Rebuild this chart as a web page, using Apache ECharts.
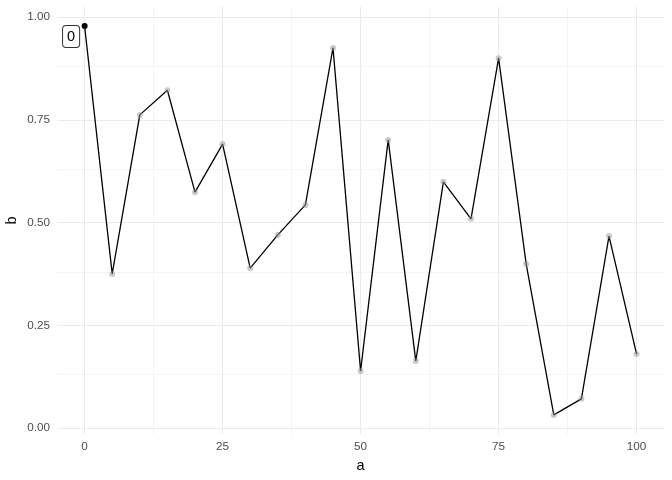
<!DOCTYPE html>
<html><head><meta charset="utf-8">
<script src="https://cdn.jsdelivr.net/npm/echarts@6/dist/echarts.min.js"></script>
<style>html,body{margin:0;padding:0;background:#fff}#c{width:672px;height:480px}</style>
</head><body><div id="c"></div>
<script>
const aValues = [0,5,10,15,20,25,30,35,40,45,50,55,60,65,70,75,80,85,90,95,100];
const bValues = [0.978,0.375,0.762,0.822,0.574,0.691,0.389,0.470,0.543,0.925,0.139,0.701,0.163,0.599,0.509,0.900,0.399,0.032,0.071,0.467,0.180];
const xTicks = [0,25,50,75,100];
const yTicks = [0,0.25,0.5,0.75,1];
const xMinor = [12.5,37.5,62.5,87.5];
const yMinor = [0.125,0.375,0.625,0.875];
const labelText = "0";

const chart = echarts.init(document.getElementById('c'), null, {renderer:'canvas'});
const pts = aValues.map((a,i)=>[a,bValues[i]]);
const gridLines = [];
xMinor.forEach(v=>gridLines.push({xAxis:v,lineStyle:{color:'#f5f5f5',width:1,type:'solid'}}));
yMinor.forEach(v=>gridLines.push({yAxis:v,lineStyle:{color:'#f5f5f5',width:1,type:'solid'}}));
xTicks.forEach(v=>gridLines.push({xAxis:v,lineStyle:{color:'#ebebeb',width:1.1,type:'solid'}}));
yTicks.forEach(v=>gridLines.push({yAxis:v,lineStyle:{color:'#ebebeb',width:1.1,type:'solid'}}));

chart.setOption({
  animation:false,
  grid:{left:57,right:7.8,top:6.8,bottom:45.8,containLabel:false,outerBoundsMode:'none'},
  xAxis:{type:'value',min:-5,max:105,
    name:'a',nameLocation:'middle',nameGap:24,nameTextStyle:{color:'#000',fontSize:14.5,fontFamily:'Liberation Sans'},
    axisLine:{show:false},axisTick:{show:false},splitLine:{show:false},
    axisLabel:{customValues:xTicks,color:'#4d4d4d',fontSize:11.7,fontFamily:'Liberation Sans',margin:7}},
  yAxis:{type:'value',min:-0.015,max:1.025,
    name:'b',nameLocation:'middle',nameGap:38,nameMoveOverlap:false,nameTextStyle:{color:'#000',fontSize:14.5,fontFamily:'Liberation Sans'},
    axisLine:{show:false},axisTick:{show:false},splitLine:{show:false},
    axisLabel:{customValues:yTicks,color:'#4d4d4d',fontSize:11.7,fontFamily:'Liberation Sans',margin:7,
      formatter:v=>v.toFixed(2)}},
  series:[
    {type:'line',data:[],silent:true,z:0,
      markLine:{silent:true,z:0,symbol:['none','none'],label:{show:false},animation:false,data:gridLines}},
    {type:'line',data:pts,showSymbol:false,symbol:'none',lineStyle:{color:'#000',width:1.3},z:3},
    {type:'scatter',data:pts.map((p,i)=>{
        if(i===0){
          return {value:p,itemStyle:{color:'#000',borderWidth:0},
            label:{show:true,formatter:labelText,position:'inside',offset:[-13.5,10.5],
              color:'#000',fontSize:14.5,fontFamily:'Liberation Sans',
              backgroundColor:'#fff',borderColor:'#333',borderWidth:1,borderRadius:3,padding:[3,4],lineHeight:15}};
        }
        return {value:p};
      }),
      symbolSize:6,itemStyle:{color:'rgba(150,150,150,0.5)',borderWidth:0,borderColor:'transparent',opacity:1},z:4}
  ]
});
</script></body></html>
